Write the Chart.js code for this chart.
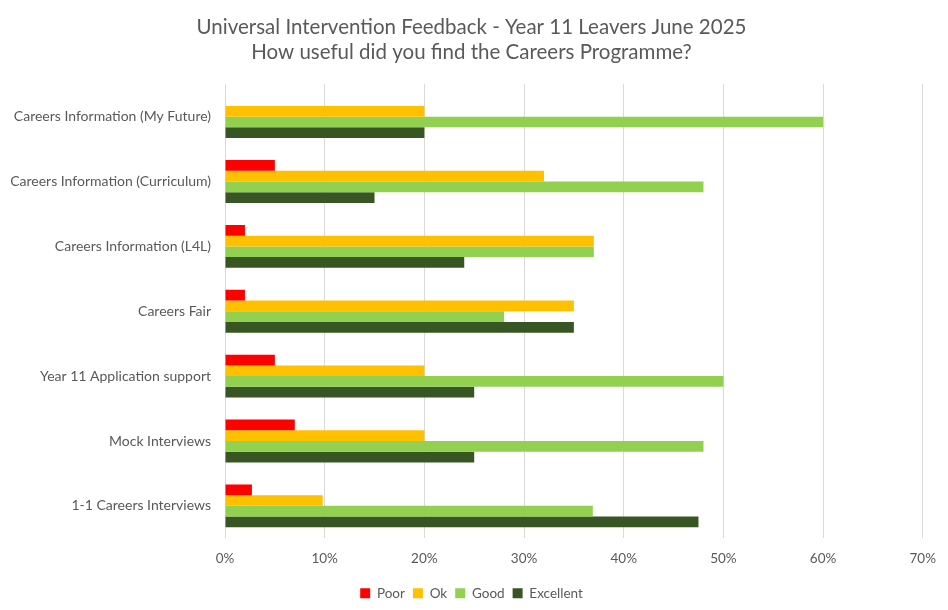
<!DOCTYPE html>
<html>
<head>
<meta charset="utf-8">
<script src="https://cdn.jsdelivr.net/npm/chart.js@4"></script>
<style>
html,body{margin:0;padding:0;background:#fff;}
#wrap{width:948px;height:610px;position:relative;}
</style>
</head>
<body>
<div id="wrap"><canvas id="c"></canvas></div>
<script>
const categories = [
  "Careers Information (My Future)",
  "Careers Information (Curriculum)",
  "Careers Information (L4L)",
  "Careers Fair",
  "Year 11 Application support",
  "Mock Interviews",
  "1-1 Careers Interviews"
];
const poor      = [0, 5, 2, 2, 5, 7, 2.7];
const ok        = [20, 32, 37, 35, 20, 20, 9.8];
const good      = [60, 48, 37, 28, 50, 48, 36.9];
const excellent = [20, 15, 24, 35, 25, 25, 47.5];
const xTicks = [0, 10, 20, 30, 40, 50, 60, 70];

const FONT = "Lato, 'Open Sans', sans-serif";
const GREY = "#595959";

new Chart(document.getElementById('c'), {
  type: 'bar',
  data: {
    labels: categories,
    datasets: [
      { label: 'Poor', data: poor, backgroundColor: '#FF0000' },
      { label: 'Ok', data: ok, backgroundColor: '#FFC000' },
      { label: 'Good', data: good, backgroundColor: '#92D050' },
      { label: 'Excellent', data: excellent, backgroundColor: '#375623' }
    ]
  },
  options: {
    indexAxis: 'y',
    responsive: true,
    maintainAspectRatio: false,
    animation: false,
    datasets: { bar: { categoryPercentage: 0.66, barPercentage: 1.0 } },
    layout: { padding: { left: 4, right: 9, top: 11, bottom: 0 } },
    plugins: {
      title: {
        display: true,
        text: ["Universal Intervention Feedback - Year 11 Leavers June 2025", "How useful did you find the Careers Programme?"],
        color: GREY,
        font: { family: FONT, size: 20.5, weight: 'normal' },
        padding: { top: 4, bottom: 20 },
        lineHeight: 1.25
      },
      legend: {
        position: 'bottom',
        labels: {
          color: GREY,
          font: { family: FONT, size: 13.5 },
          boxWidth: 10,
          boxHeight: 10,
          padding: 8
        }
      },
      tooltip: { enabled: false }
    },
    scales: {
      x: {
        min: 0, max: 70,
        afterBuildTicks: (axis) => { axis.ticks = xTicks.map(v => ({ value: v })); },
        ticks: {
          color: GREY,
          font: { family: FONT, size: 13.5 },
          padding: 12,
          callback: (v) => v + '%'
        },
        grid: { color: '#d9d9d9', drawTicks: false, lineWidth: 1 },
        border: { display: false }
      },
      y: {
        afterFit: (axis) => { axis.width = 221; },
        ticks: {
          color: GREY,
          font: { family: FONT, size: 14 },
          padding: 14
        },
        grid: { display: false, drawTicks: false },
        border: { display: false }
      }
    }
  }
});
</script>
</body>
</html>
